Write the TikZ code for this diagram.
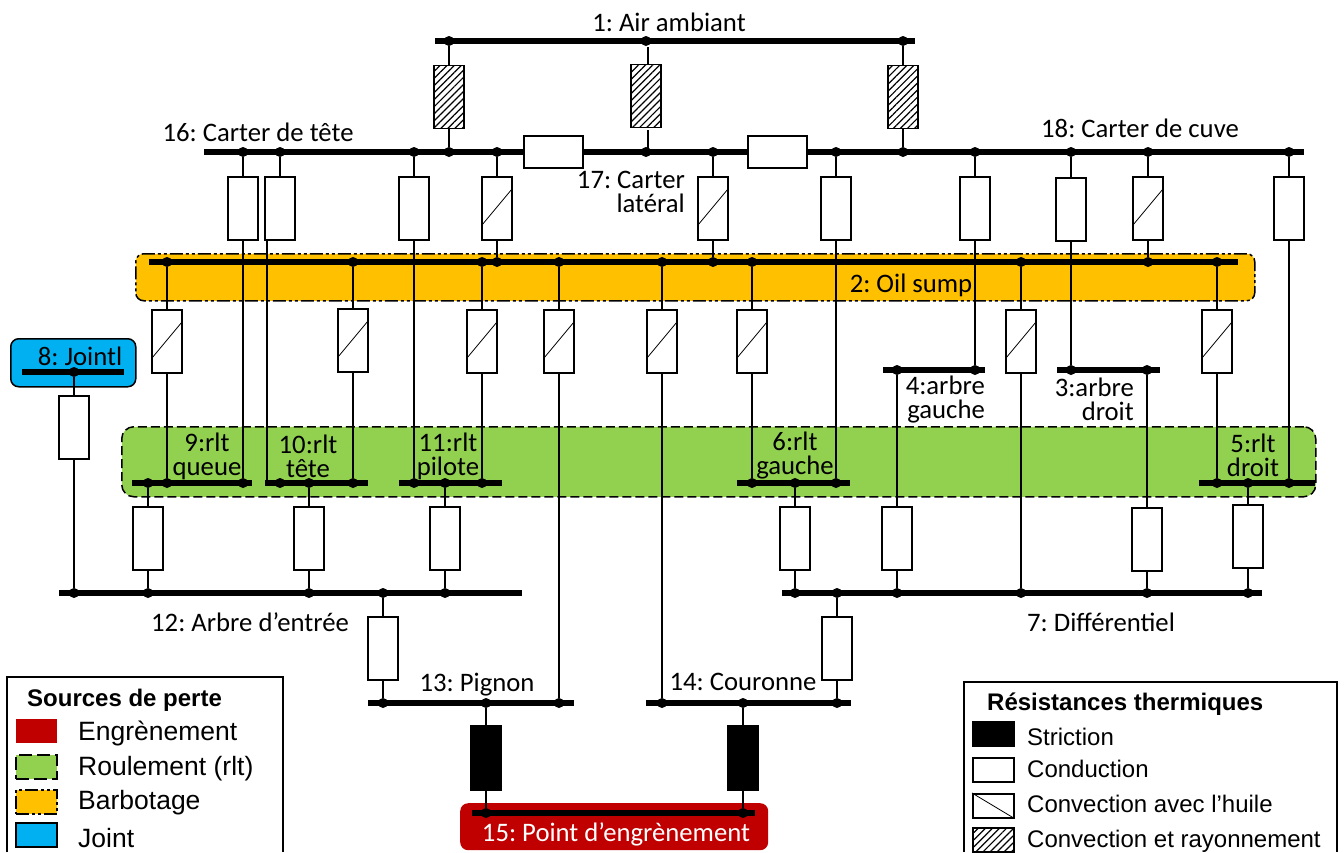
\documentclass[tikz,border=0pt]{standalone}
\usepackage{fontspec}
\setmainfont{Carlito}
\newfontfamily\legfont{Liberation Sans}
\usetikzlibrary{patterns.meta}

\definecolor{engred}{RGB}{192,0,0}
\definecolor{rltgreen}{RGB}{146,208,80}
\definecolor{oilorange}{RGB}{255,192,0}
\definecolor{jointblue}{RGB}{0,176,240}

\tikzset{
  wire/.style={black, line width=1.5pt},
  busbar/.style={fill=black, inner sep=0pt, minimum height=6pt, anchor=west},
  jn/.style={circle, fill=black, inner sep=0pt, minimum size=10pt},
  cond/.style={draw=black, fill=white, line width=1.5pt, inner sep=0pt, minimum width=30pt, minimum height=63pt},
  conv/.style={cond, path picture={\draw[black, line width=0.8pt]
    ([yshift=15pt]path picture bounding box.south west) -- ([yshift=-12pt]path picture bounding box.north east);}},
  hatchfill/.style={preaction={fill=white}, pattern={Lines[angle=45, distance=5pt, line width=1.2pt]}},
  convrad/.style={cond, hatchfill},
  stric/.style={cond, fill=black, minimum width=31pt, minimum height=64pt},
  rltzone/.style={draw=black, fill=rltgreen, line width=1.5pt, dash pattern=on 9pt off 4pt},
  oilzone/.style={draw=black, fill=oilorange, line width=1.5pt, dash pattern=on 13pt off 3pt on 3pt off 3pt on 3pt off 3pt},
  lbl/.style={font=\frenchspacing\fontsize{26.7}{24}\selectfont, inner sep=0pt, align=center},
  leglbl/.style={font=\legfont\fontsize{26.5}{27}\selectfont, inner sep=0pt, anchor=west},
  resleg/.style={font=\legfont\fontsize{24}{25}\selectfont, inner sep=0pt, anchor=west},
  legbold/.style={font=\legfont\bfseries\fontsize{24}{25}\selectfont, inner sep=0pt, anchor=west},
  legswatch/.style={inner sep=0pt, line width=1.5pt, minimum width=41pt, minimum height=24pt}
}

\begin{document}
\begin{tikzpicture}[x=1pt, y=-1pt]
  \useasboundingbox (0,0) rectangle (1344,852);

  % loss source zones
  \node[oilzone, rounded corners=8pt, inner sep=0pt, minimum width=1119pt, minimum height=47pt, anchor=north west] (zoil) at (135,253) {};
  \node[rltzone, rounded corners=12pt, inner sep=0pt, minimum width=1194pt, minimum height=70pt, anchor=north west] (zrlt) at (121,426) {};
  \node[draw=black, fill=jointblue, line width=1.5pt, rounded corners=8pt, inner sep=0pt, minimum width=125pt, minimum height=48pt, anchor=north west] (zjoint) at (10,338) {};
  \node[fill=engred, rounded corners=8pt, inner sep=0pt, minimum width=308pt, minimum height=47pt, anchor=north west] (zeng) at (460,803) {};

  % bus bars
  \foreach \nm/\xa/\xb/\yy in {b1/435/915/41, b16/204/1304/152, b2/149/1238/262, b3/1057/1160/370, b4/883/985/370,
      b5/1199/1315/483, b6/737/850/483, b7/782/1262/593, b8/22/124/372, b9/132/252/483, b10/265/368/483,
      b11/399/502/483, b12/59/522/593, b13/368/574/703, b14/646/851/703, b15/472/755/813}
    \node[busbar, minimum width=\xb-\xa] (\nm) at (\xa,\yy) {};

  % junctions
  \foreach \bb/\yy/\xlist in {1/41/{449,646,903}, 16/152/{243,280,414,449,497,646,713,836,903,975,1071,1148,1289},
      2/262/{167,353,482,497,559,662,713,752,1021,1148,1217}, 3/370/{1071,1147}, 4/370/{897,975},
      5/483/{1217,1248,1289}, 6/483/{752,795,836}, 7/593/{795,837,897,1021,1147,1248}, 8/372/{74},
      9/483/{148,167,243}, 10/483/{280,309,353}, 11/483/{414,445,482}, 12/593/{74,148,309,383,445},
      13/703/{383,486,559}, 14/703/{662,743,837}, 15/813/{486,743}}
    \foreach \x in \xlist
      \node[jn] (d\bb-\x) at (\x,\yy) {};

  % resistances
  \foreach \x/\yy in {243/208.5, 280/208.5, 414/208.5, 836/208.5, 975/208.5, 1071/209.5, 1289/208.5, 74/427.5,
      148/538.5, 309/538.5, 445/538.5, 795/538.5, 897/538.5, 1147/539.5, 1248/536.5, 383/648.5, 837/648.5}
    \node[cond] (r\x) at (\x,\yy) {};
  \foreach \x/\yy in {497/208.5, 713/208.5, 1148/208.5, 167/341.5, 353/340.5, 482/341.5, 559/341.5,
      662/341.5, 752/341.5, 1021/341.5, 1217/341.5}
    \node[conv] (r\x) at (\x,\yy) {};
  \foreach \x/\yy in {449/97, 646/96, 903/97}
    \node[convrad] (r\x) at (\x,\yy) {};
  \foreach \x in {486,743}
    \node[stric] (r\x) at (\x,758) {};
  \node[cond, minimum width=59pt, minimum height=32pt] (rh1) at (553.5,152) {};
  \node[cond, minimum width=59pt, minimum height=32pt] (rh2) at (777.5,152) {};

  % connectors
  \foreach \ta/\rr/\tb in {d1-449/449/d16-449, d1-903/903/d16-903, d16-243/243/d9-243, d16-414/414/d11-414,
      d16-497/497/d2-497, d16-713/713/d2-713, d16-836/836/d6-836, d16-975/975/d4-975, d16-1071/1071/d3-1071,
      d16-1148/1148/d2-1148, d16-1289/1289/d5-1289, d2-167/167/d9-167, d2-353/353/d10-353, d2-482/482/d11-482,
      d2-559/559/d13-559, d2-662/662/d14-662, d2-752/752/d6-752, d2-1021/1021/d7-1021, d2-1217/1217/d5-1217,
      d4-897/897/d7-897, d3-1147/1147/d7-1147, d5-1248/1248/d7-1248, d9-148/148/d12-148, d10-309/309/d12-309,
      d11-445/445/d12-445, d6-795/795/d7-795, d12-383/383/d13-383, d7-837/837/d14-837, d8-74/74/d12-74,
      d13-486/486/d15-486, d14-743/743/d15-743}
    \draw[wire] (\ta) -- (r\rr) -- (\tb);

  % the two that do not line up with their resistance
  \coordinate (c646a) at (648,47);
  \coordinate (c646b) at (648,64.5);
  \coordinate (c646c) at (648,130);
  \coordinate (c646d) at (648,150);
  \coordinate (c280a) at (267,240);
  \coordinate (c280b) at (267,483);
  \draw[wire] (c646a) -- (c646b);
  \draw[wire] (c646c) -- (c646d);
  \draw[wire] (d16-280) -- (r280);
  \draw[wire] (c280a) -- (c280b);

  % labels
  \node[lbl] (l1) at (669,22) {1: Air ambiant};
  \node[lbl] (l16) at (258,132) {16: Carter de tête};
  \node[lbl, align=right, anchor=east] (l17) at (685,192) {17: Carter\\latéral};
  \node[lbl] (l18) at (1140,128) {18: Carter de cuve};
  \node[lbl] (l2) at (911,285) {2: Oil sump};
  \node[lbl] (l8) at (80,356) {8: Jointl};
  \node[lbl] (l9) at (207,456) {9:rlt\\queue};
  \node[lbl] (l10) at (308,456) {10:rlt\\tête};
  \node[lbl] (l11) at (448,456) {11:rlt\\pilote};
  \node[lbl] (l6) at (795,456) {6:rlt\\gauche};
  \node[lbl] (l5) at (1253,455) {5:rlt\\droit};
  \node[lbl, align=right, anchor=east] (l4) at (985,400) {4:arbre\\gauche};
  \node[lbl, align=right, anchor=east] (l3) at (1134,399) {3:arbre\\droit};
  \node[lbl] (l12) at (250,622) {12: Arbre d’entrée};
  \node[lbl] (l7) at (1101,622) {7: Différentiel};
  \node[lbl] (l13) at (477,685) {13: Pignon};
  \node[lbl] (l14) at (743,682) {14: Couronne};
  \node[lbl, text=white] (l15) at (616,834) {15: Point d’engrènement};

  % legend of the sources
  \draw[black, line width=1.2pt] (7,852) |- (283,677) -- (283,852);
  \node[legbold] (tsrc) at (27,700) {Sources de perte};
  \node[legswatch, fill=engred, anchor=north west] (sw1) at (15,718) {};
  \node[legswatch, rltzone, dash pattern=on 13pt off 5pt, anchor=north west] (sw2) at (15,754) {};
  \node[legswatch, oilzone, anchor=north west] (sw3) at (15,789) {};
  \node[legswatch, draw=black, fill=jointblue, anchor=north west] (sw4) at (15,822) {};
  \node[leglbl] (ts1) at (78,733) {Engrènement};
  \node[leglbl] (ts2) at (78,769) {Roulement (rlt)};
  \node[leglbl] (ts3) at (78,803) {Barbotage};
  \node[leglbl] (ts4) at (78,838) {Joint};

  % legend of the resistances
  \draw[black, line width=1.2pt] (964,852) |- (1337,682) -- (1337,852);
  \node[legbold] (tres) at (987,704) {Résistances thermiques};
  \node[legswatch, draw=black, fill=black, anchor=north west] (sr1) at (972,721) {};
  \node[legswatch, draw=black, fill=white, anchor=north west] (sr2) at (972,757) {};
  \node[legswatch, draw=black, fill=white, anchor=north west] (sr3) at (972,793) {};
  \node[legswatch, draw=black, hatchfill, anchor=north west] (sr4) at (972,827) {};
  \draw[black, line width=0.8pt] (sr3.north west) -- (sr3.south east);
  \node[resleg] (tr1) at (1027,737) {Striction};
  \node[resleg] (tr2) at (1027,769) {Conduction};
  \node[resleg] (tr3) at (1027,804) {Convection avec l’huile};
  \node[resleg] (tr4) at (1027,841) {Convection et rayonnement};

\end{tikzpicture}
\end{document}
